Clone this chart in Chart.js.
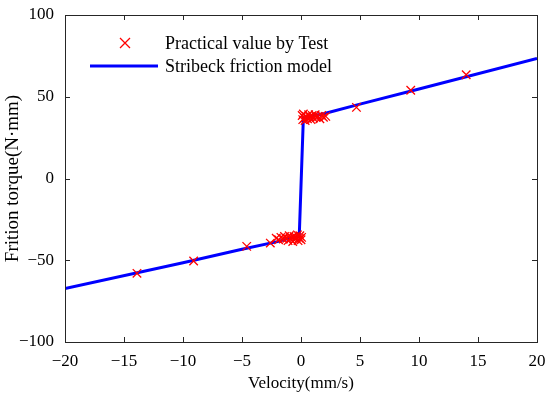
<!DOCTYPE html>
<html>
<head>
<meta charset="utf-8">
<script src="https://cdn.jsdelivr.net/npm/chart.js@4"></script>
<style>
  html, body { margin: 0; padding: 0; background: #fff; }
  #wrap { width: 550px; height: 398px; }
</style>
</head>
<body>
<div id="wrap"><canvas id="c" width="550" height="398"></canvas></div>
<script>
// ── Data ──────────────────────────────────────────────────────────────────
const testV = [
    -13.9, -9.1, -4.6, -2.6,
    -2.1, -1.9, -1.7, -1.5, -1.4, -1.2, -1.1, -1.0, -0.9, -0.8,
    -0.7, -0.6, -0.5, -0.4, -0.3, -0.25, -0.15, -0.1, 0, 0.05,
    0.1, 0.15, 0.2, 0.3, 0.35, 0.45, 0.55, 0.65, 0.75, 0.85,
    0.95, 1.05, 1.2, 1.3, 1.45, 1.6, 1.75, 1.9, 2.1,
    4.7, 9.3, 14.0,
];
const testTorque = [
    -58, -50.5, -41.5, -39.5,
    -36.5, -37.5, -36, -37, -35.5, -36.5, -38, -35, -37, -36,
    -38.5, -35.5, -37, -36, -34.5, -38, -36.5, -35, -37.5, -36,
    38.5, 36, 39.5, 37, 35.5, 38, 36.5, 39, 37.5, 36,
    38.5, 37, 39, 37.5, 38, 36.5, 38.5, 37.5, 38,
    43.5, 54, 63.5,
];

const modelV      = [-20, -10, -5, -2, -1, -0.15, 0.2, 1, 2, 5, 10, 20];
const modelTorque = [-67.3, -51.5, -43.3, -38.6, -36.6, -35.5, 37, 38.2, 39.8, 45.5, 54.7, 73.4];

const xTicks = [-20, -15, -10, -5, 0, 5, 10, 15, 20];
const yTicks = [-100, -50, 0, 50, 100];

const FONT = "'Liberation Serif', 'Times New Roman', serif";

// ── Plugins ───────────────────────────────────────────────────────────────

// MATLAB style box with inward ticks on all four sides
const boxTicks = {
    id: 'boxTicks',
    afterDraw(chart) {
        const { ctx, chartArea: a, scales } = chart;
        const len = 5;
        ctx.save();
        ctx.strokeStyle = '#262626';
        ctx.lineWidth = 1;
        ctx.beginPath();
        xTicks.forEach(v => {
            const px = Math.round(scales.x.getPixelForValue(v)) + 0.5;
            ctx.moveTo(px, a.bottom); ctx.lineTo(px, a.bottom - len);
            ctx.moveTo(px, a.top);    ctx.lineTo(px, a.top + len);
        });
        yTicks.forEach(v => {
            const py = Math.round(scales.y.getPixelForValue(v)) + 0.5;
            ctx.moveTo(a.left, py);  ctx.lineTo(a.left + len, py);
            ctx.moveTo(a.right, py); ctx.lineTo(a.right - len, py);
        });
        ctx.stroke();
        ctx.strokeRect(Math.round(a.left) + 0.5, Math.round(a.top) + 0.5,
                       Math.round(a.right - a.left), Math.round(a.bottom - a.top));
        ctx.restore();
    },
};

// legend drawn inside the plot, upper left
const innerLegend = {
    id: 'innerLegend',
    afterDraw(chart) {
        const { ctx } = chart;
        ctx.save();
        ctx.font = `18px ${FONT}`;
        ctx.fillStyle = '#000';
        ctx.textBaseline = 'middle';
        ctx.textAlign = 'left';

        // cross marker
        const cx = 125, cy = 43, r = 5;
        ctx.strokeStyle = '#ff0000';
        ctx.lineWidth = 1.3;
        ctx.beginPath();
        ctx.moveTo(cx - r, cy - r); ctx.lineTo(cx + r, cy + r);
        ctx.moveTo(cx - r, cy + r); ctx.lineTo(cx + r, cy - r);
        ctx.stroke();
        ctx.fillText('Practical value by Test', 165, cy + 1);

        // line sample
        ctx.strokeStyle = '#0000ff';
        ctx.lineWidth = 3;
        ctx.beginPath();
        ctx.moveTo(90, 66); ctx.lineTo(158, 66);
        ctx.stroke();
        ctx.fillText('Stribeck friction model', 165, 67);
        ctx.restore();
    },
};

// ── Chart ─────────────────────────────────────────────────────────────────

new Chart(document.getElementById('c').getContext('2d'), {
    type: 'scatter',
    data: {
        datasets: [
            {
                label: 'Stribeck friction model',
                data: modelV.map((v, i) => ({ x: v, y: modelTorque[i] })),
                showLine: true,
                borderColor: '#0000ff',
                borderWidth: 3,
                pointRadius: 0,
                fill: false,
                order: 1,
            },
            {
                label: 'Practical value by Test',
                data: testV.map((v, i) => ({ x: v, y: testTorque[i] })),
                pointStyle: 'crossRot',
                pointRadius: 6,
                borderColor: '#ff0000',
                backgroundColor: '#ff0000',
                pointBorderWidth: 1.3,
                order: 0,
            },
        ],
    },
    options: {
        responsive: false,
        animation: false,
        layout: { padding: { top: 15, right: 13, left: 0, bottom: 0 } },
        plugins: {
            legend: { display: false },
            tooltip: { enabled: false },
        },
        scales: {
            x: {
                type: 'linear',
                min: -20, max: 20,
                afterBuildTicks: s => { s.ticks = xTicks.map(v => ({ value: v })); },
                afterFit: s => { s.height = 56; },
                grid: { display: false },
                border: { display: false },
                ticks: {
                    color: '#000',
                    font: { family: FONT, size: 17 },
                    padding: 1,
                    maxRotation: 0,
                    callback: v => String(v).replace('-', '\u2212'),
                },
                title: {
                    display: true,
                    text: 'Velocity(mm/s)',
                    color: '#000',
                    font: { family: FONT, size: 17 },
                    padding: { top: 0, bottom: 4 },
                },
            },
            y: {
                type: 'linear',
                min: -100, max: 100,
                afterBuildTicks: s => { s.ticks = yTicks.map(v => ({ value: v })); },
                afterFit: s => { s.width = 65; },
                grid: { display: false },
                border: { display: false },
                ticks: {
                    color: '#000',
                    font: { family: FONT, size: 17 },
                    padding: 3,
                    callback: v => String(v).replace('-', '\u2212'),
                },
                title: {
                    display: true,
                    text: 'Frition torque(N\u00b7mm)',
                    color: '#000',
                    font: { family: FONT, size: 19 },
                    padding: { top: 2, bottom: 0 },
                },
            },
        },
    },
    plugins: [boxTicks, innerLegend],
});
</script>
</body>
</html>
